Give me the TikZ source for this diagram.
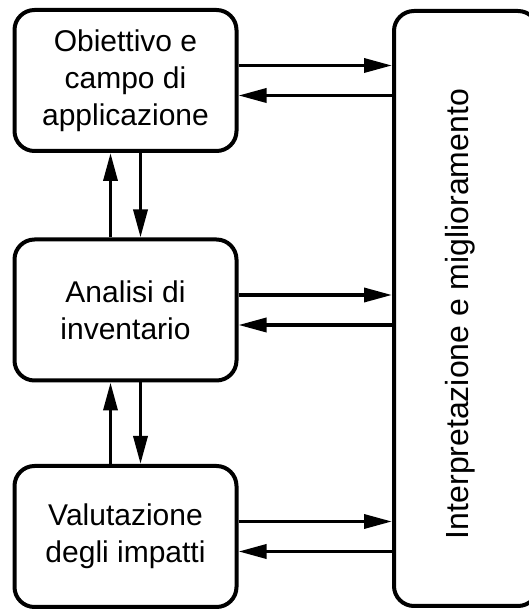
\documentclass[tikz,border=0pt]{standalone}
\usepackage{fontspec}
\setmainfont{Liberation Sans}
\usetikzlibrary{arrows.meta}
\tikzset{
	stage/.style = {draw=black, line width=4pt, rounded corners=20pt, align=center, inner sep=0pt, minimum width=222pt, minimum height=141pt, font=\fontsize{30}{37}\selectfont},
	side/.style = {draw=black, line width=4pt, rounded corners=20pt, inner sep=0pt, minimum width=144pt, minimum height=595pt},
	sidetext/.style = {inner sep=0pt, rotate=90, font=\fontsize{32}{37}\selectfont},
	flow/.style = {line width=3.5pt, -{Triangle[length=28pt, width=14pt]}}
}

\begin{document}
\begin{tikzpicture}[x=1pt, y=1pt]
\useasboundingbox (0,0) rectangle (528,610);
\node [stage] (goal) at (125.5,529.5) {Obiettivo e\\campo di\\applicazione};
\node [stage] (inventory) at (125.5,300) {Analisi di\\inventario};
\node [stage] (impact) at (125.5,73.5) {Valutazione\\degli impatti};
\node [side] (interp) at (466,301.5) {};
\node [sidetext] (interplabel) at (460,296) {Interpretazione e miglioramento};
\foreach \hi/\lo in {goal/inventory, inventory/impact}{
	\draw [flow] ([xshift=-15pt]\lo.north) -- ([xshift=-15pt]\hi.south);
	\draw [flow] ([xshift=15pt]\hi.south) -- ([xshift=15pt]\lo.north);
}
\foreach \stg in {goal, inventory, impact}{
	\draw [flow] ([yshift=15pt]\stg.east) -- ([yshift=15pt]\stg.east -| interp.west);
	\draw [flow] ([yshift=-15pt]\stg.east -| interp.west) -- ([yshift=-15pt]\stg.east);
}
\end{tikzpicture}
\end{document}
